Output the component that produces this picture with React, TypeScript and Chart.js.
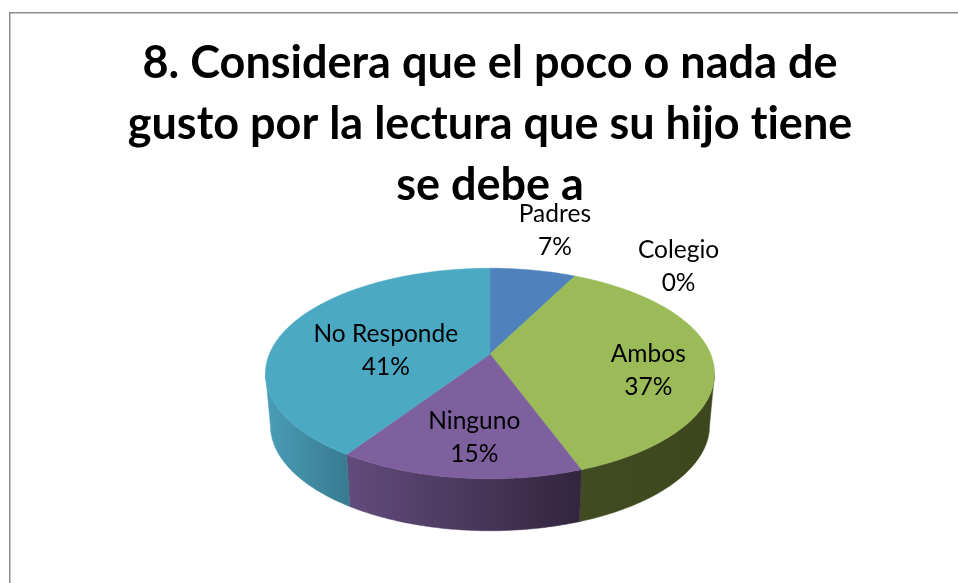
import React, { useEffect, useRef } from "react";
import { Chart, registerables } from "chart.js";

Chart.register(...registerables);

const categories = ["Padres", "Colegio", "Ambos", "Ninguno", "No Responde"];
const counts = [2, 0, 10, 4, 11];
const titleLines = [
  "8. Considera que el poco o nada de",
  "gusto por la lectura que su hijo tiene",
  "se debe a",
];
const faceColors = ["#4F81BD", "#C0504D", "#9BBB59", "#7F609F", "#4BA9C4"];
const wallFrom = ["#3A5F8C", "#8E3B39", "#414C22", "#624C7C", "#4A9DB8"];
const wallTo = ["#2C4A6E", "#6E2D2B", "#3D471F", "#32253E", "#377A90"];

const FONT = "Lato, Carlito, Calibri, sans-serif";
const Y_SQUASH = 105.5 / 225;
const PERSPECTIVE = -0.185;
const DEPTH = 52;
const BASE_SHRINK = 0.978;
// label centres relative to the pie centre, as fractions of the radius
const labelOffsets: [number, number][] = [
  [0.289, -0.635],
  [0.84, -0.478],
  [0.705, -0.012],
  [-0.07, 0.287],
  [-0.464, -0.101],
];

function project(cx: number, cy: number, r: number, a: number) {
  const u = Math.cos(a);
  const v = Math.sin(a);
  const b = PERSPECTIVE;
  const d = 1 + b * v;
  return {
    x: cx + (r * u * Math.sqrt(1 - b * b)) / d,
    y: cy + (r * Y_SQUASH * (v + b)) / d,
  };
}

function arcPoints(cx: number, cy: number, r: number, a0: number, a1: number) {
  const pts = [];
  const n = Math.max(2, Math.ceil(Math.abs(a1 - a0) / 0.01));
  for (let i = 0; i <= n; i++) pts.push(project(cx, cy, r, a0 + ((a1 - a0) * i) / n));
  return pts;
}

const pie3d = {
  id: "pie3d",
  beforeDraw(chart: any) {
    const { ctx } = chart;
    ctx.save();
    ctx.fillStyle = "#ffffff";
    ctx.fillRect(0, 0, chart.width, chart.height);
    ctx.strokeStyle = "#8C8C8C";
    ctx.lineWidth = 1.5;
    ctx.beginPath();
    ctx.moveTo(9.75, chart.height + 2);
    ctx.lineTo(9.75, 12.75);
    ctx.lineTo(chart.width + 2, 12.75);
    ctx.stroke();
    ctx.restore();
    // a tiny letter spacing keeps the browser from joining "ti" into a ligature
    ctx.letterSpacing = "0.01px";
  },
  beforeDatasetsDraw(chart: any) {
    const { ctx } = chart;
    const arcs = chart.getDatasetMeta(0).data;
    const visFrom = Math.asin(-PERSPECTIVE);
    const visTo = Math.PI - visFrom;
    ctx.save();
    arcs.forEach((arc: any, i: number) => {
      const { x, y, outerRadius: r, startAngle, endAngle } = arc;
      const a0 = Math.max(startAngle, visFrom);
      const a1 = Math.min(endAngle, visTo);
      if (a1 <= a0) return;
      const top = arcPoints(x, y, r, a0, a1);
      const base = top.map((p) => ({ x: x + (p.x - x) * BASE_SHRINK, y: p.y + DEPTH }));
      const xs = top.concat(base).map((p) => p.x);
      const g = ctx.createLinearGradient(Math.min(...xs), 0, Math.max(...xs), 0);
      g.addColorStop(0, wallFrom[i]);
      g.addColorStop(1, wallTo[i]);
      ctx.beginPath();
      top.forEach((p, k) => (k ? ctx.lineTo(p.x, p.y) : ctx.moveTo(p.x, p.y)));
      base.reverse().forEach((p) => ctx.lineTo(p.x, p.y));
      ctx.closePath();
      ctx.fillStyle = g;
      ctx.strokeStyle = g;
      ctx.lineWidth = 0.5;
      ctx.fill();
      ctx.stroke();
    });
    arcs.forEach((arc: any, i: number) => {
      const { x, y, outerRadius: r, startAngle, endAngle } = arc;
      if (endAngle - startAngle <= 0) return;
      const apex = { x, y: y + r * Y_SQUASH * PERSPECTIVE };
      const top = arcPoints(x, y, r, startAngle, endAngle);
      ctx.beginPath();
      ctx.moveTo(apex.x, apex.y);
      top.forEach((p) => ctx.lineTo(p.x, p.y));
      ctx.closePath();
      ctx.fillStyle = faceColors[i];
      ctx.strokeStyle = faceColors[i];
      ctx.lineWidth = 0.5;
      ctx.fill();
      ctx.stroke();
    });
    ctx.restore();
    return false;
  },
  afterDraw(chart: any) {
    const { ctx } = chart;
    const arcs = chart.getDatasetMeta(0).data;
    const total = counts.reduce((s, v) => s + v, 0);
    ctx.save();
    ctx.fillStyle = "#000000";
    ctx.font = `24.5px ${FONT}`;
    ctx.textAlign = "center";
    ctx.textBaseline = "middle";
    arcs.forEach((arc: any, i: number) => {
      const cx = arc.x + labelOffsets[i][0] * arc.outerRadius;
      const cy = arc.y + labelOffsets[i][1] * arc.outerRadius;
      ctx.fillText(categories[i], cx, cy - 16.5);
      ctx.fillText(`${Math.round((counts[i] / total) * 100)}%`, cx, cy + 16.5);
    });
    ctx.restore();
  },
};

export default function App() {
  const ref = useRef<HTMLCanvasElement>(null);
  useEffect(() => {
    if (!ref.current) return;
    const chart = new Chart(ref.current, {
      type: "pie",
      data: {
        labels: categories,
        datasets: [{ data: counts, backgroundColor: faceColors, borderWidth: 0 }],
      },
      options: {
        responsive: false,
        animation: false,
        radius: 224.5,
        layout: { padding: { left: 22, right: 0, top: 0, bottom: 52 } },
        plugins: {
          legend: { display: false },
          tooltip: { enabled: false },
          title: {
            display: true,
            text: titleLines,
            color: "#000000",
            font: { family: FONT, size: 45, weight: "bold", lineHeight: 61 / 45 },
            padding: { top: 33, bottom: 0 },
          },
        },
      } as any,
      plugins: [pie3d],
    });
    return () => chart.destroy();
  }, []);
  return (
    <canvas
      ref={ref}
      width={958}
      height={583}
      style={{ position: "absolute", left: 0, top: 0, display: "block" }}
    />
  );
}
